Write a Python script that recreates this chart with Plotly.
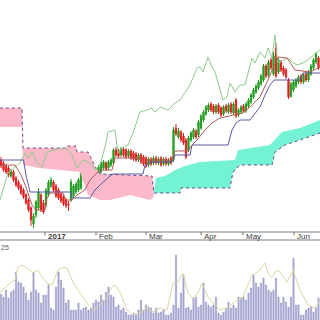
import plotly.graph_objects as go

# ---------------- data (price units, arbitrary scale) ----------------
OPEN = [80,77,74,72,64,68,62,58,54,50,45,40,32,16,25,32,45,37,35,45,
        54,58,54,50,46,43,40,36,40,44,48,50,52,68,74,70,64,71,70,66,
        68,72,77,72,75,77,90,89,85,91,90,84,89,87,86,80,85,83,82,75,
        81,77,82,77,82,76,81,76,82,80,112,103,108,104,100,90,100,103,109,105,
        112,120,126,130,136,134,128,135,132,126,134,128,136,127,140,125,128,134,129,134,
        138,143,148,152,156,160,174,165,180,166,192,168,178,172,170,160,144,150,154,158,
        164,158,166,160,166,172,178,182]
CLOSE = [74,70,68,65,69,60,55,52,47,43,37,30,20,24,38,48,30,28,50,58,
         60,50,44,42,39,36,34,35,58,54,56,60,72,74,67,63,70,65,64,73,
         77,78,71,78,80,90,85,84,91,85,83,89,82,81,80,85,78,76,74,81,
         76,82,77,81,75,81,76,80,77,110,106,109,100,97,83,102,107,110,103,118,
         124,128,133,135,130,128,134,128,125,133,129,135,128,136,124,130,133,129,136,140,
         145,150,154,158,164,174,164,178,172,184,164,180,170,166,163,143,156,158,160,163,
         158,165,160,168,174,180,186,172]
HIGH = [83,79,76,74,71,70,64,60,56,52,47,42,34,27,40,52,47,40,52,60,
        63,60,56,52,48,45,42,39,61,56,58,62,75,76,76,72,72,73,72,75,
        79,80,79,80,82,92,93,91,93,93,92,91,91,89,88,87,87,85,84,83,
        83,84,84,83,84,83,83,82,84,113,116,112,110,107,102,104,109,112,111,120,
        126,130,135,137,138,136,136,137,134,135,136,137,138,138,142,132,135,136,138,142,
        147,152,156,160,166,176,176,180,182,188,197,182,180,174,172,162,158,160,162,165,
        166,167,168,170,176,182,188,184]
LOW = [72,68,66,63,62,58,53,50,45,41,35,28,14,12,22,30,28,26,33,43,
       52,48,42,40,37,34,32,29,38,42,46,48,50,66,65,61,62,63,62,64,
       66,70,69,70,73,75,83,82,83,83,81,82,80,79,78,78,76,74,72,73,
       74,75,75,75,73,74,74,74,75,78,104,101,98,95,81,88,98,101,101,103,
       110,118,124,128,128,126,126,126,123,124,127,126,126,125,122,123,126,127,127,132,
       136,141,146,150,154,158,162,163,170,164,162,166,168,164,161,141,142,148,152,156,
       156,156,158,158,164,170,176,170]
VOLUME = [26,23,30,22,28,30,48,38,37,33,27,20,28,48,30,27,17,25,25,35,
          12,10,33,48,40,32,17,20,10,10,10,17,10,12,13,10,12,17,20,18,
          25,20,28,33,25,23,13,15,10,12,8,5,5,7,5,10,20,10,15,13,
          12,7,12,7,8,10,5,5,7,15,65,12,27,45,12,13,10,22,23,13,
          15,37,18,15,13,15,23,7,5,8,12,18,12,15,12,23,22,23,20,27,
          32,45,37,33,37,42,35,30,28,30,42,23,17,23,18,13,23,62,15,15,
          5,5,10,12,13,8,12,22]

TENKAN_X = [-0.5,5.6,6.8,8.4,10.4,12.4,14,17.6,18.4,19.6,24.8,26,28.4,30.4,33.6,35.6,37.6,39.6,
            44.4,45.6,54.8,55.6,59.6,68.4,69.6,74.8,76.4,78.4,81.6,84.4,87.6,92.4,96.8,100.4,
            103.6,106.4,108.4,110.8,114.4,117.6,123.6,127.6]
TENKAN = [75,75,70,63,50,35,30,30,42,47,47,40,40,45,50,60,65,70,
          70,82,82,80,80,80,89,89,95,100,110,117,122,125,127,135,
          143,158,170,183,182,170,168,173]

KIJUN_X = [-0.5,9,10,11,11.6,28,28.4,35.6,36.4,37.6,39.6,41.6,43.6,44.8,56.8,57.6,59.6,68.4,
           69.6,75.6,76.4,90.8,92.4,94,95.6,99.6,101.6,103.6,105.6,107.6,109.2,119.6,120.8,127.6]
KIJUN = [80,80,65,55,48,48,42,42,45,50,55,60,64,66,66,75,78,78,
         85,85,95,95,110,117,120,120,127,133,145,155,160,160,167,167]

CHIKOU_X = [-0.4,2.8,7.6,9.6,10.8,12.4,14.4,16.4,18.4,20.8,22.8,25.6,26.8,28.4,30.4,32.8,35.6,
            37.6,39.6,41.6,42.8,45.6,46.8,48.4,50.8,52.8,54.4,55.6,58.4,60.4,61.6,63.6,66.8,
            69.6,71.6,75.6,78.4,79.6,80.8,82.8,84,85.6,88.8,90.4,91.6,93.6,95.6,97.6,100.4,
            101.6,103.6,105.6,106.8,108.4,109.6,110.4,111.2,112.8,114.8,116.8,118.8,121.6,
            123.6,126.4,127.6]
CHIKOU = [40,67,77,87,82,88,77,73,88,90,91,92,90,85,72,80,77,
          70,75,93,108,110,87,92,95,107,120,128,130,132,128,133,130,
          137,140,155,172,173,168,183,175,168,140,143,157,148,155,155,182,
          177,188,182,192,182,205,182,177,180,182,177,175,178,
          182,187,190]

SPAN_B_X = [-0.5,8.4,8.8,26,26.4,30,30.4,34.8,38,39.6,60.4,61.2,71.6,72,91.6,92.8,95.6,
            108.4,109.6,113.6,119.6,127.6]
SPAN_B = [132,132,92,92,94,94,88,88,72,66,64,47,47,52,52,68,75,
          75,88,95,100,107]
SPAN_A_X = [-0.5,8.4,8.8,15.6,23.6,31.6,34.8,39.6,43.6,51.6,59.6,60.8,62,65.6,69.6,73.6,
            79.6,93.6,94.8,107.6,109.6,112.4,119.6,127.6]
SPAN_A = [113,113,75,72,70,68,45,40,40,45,40,42,62,64,70,74,
          78,80,90,95,100,108,112,120]
CLOUD_SWITCH = 61.2  # bearish (pink) before, bullish (cyan) after

VOL_MA_X = [-0.4,1.6,3.6,5.6,6.8,8.4,10.4,12.8,14.8,16.4,18.4,20.4,22.8,24.8,26.4,28.4,30.8,
            34.4,36.8,39.6,42.4,44.4,45.6,47.6,50.4,52.4,55.6,58.4,60.8,63.6,66.4,68.8,70.8,
            72.8,74.8,76.8,78.8,80.4,82.8,84.8,87.6,90.4,94.4,96.8,100.4,102.4,103.6,105.6,
            106.8,108.4,110.4,111.6,114.4,116.8,119.6,122.8,125.6,127.6]
VOL_MA = [28,32,37,40,53,55,52,47,50,43,37,35,50,53,52,40,30,
          17,10,15,23,33,35,28,10,5,7,12,8,12,10,37,38,
          47,27,22,27,37,23,18,10,12,20,23,45,48,50,57,
          47,43,50,48,38,50,30,15,12,20]

TICK_POS = [-3.6, 17.6, 38, 58, 80, 96.8, 117.2]
TICK_LABELS = ["Dec", "<b>2017</b>", "Feb", "Mar", "Apr", "May", "Jun"]
VOL_LABEL = "25"

# ---------------- figure ----------------
IDX = list(range(len(OPEN)))
fig = go.Figure()

# cloud polygons
pb = [(x, y) for x, y in zip(SPAN_B_X, SPAN_B) if x <= CLOUD_SWITCH]
pa = [(x, y) for x, y in zip(SPAN_A_X, SPAN_A) if x <= CLOUD_SWITCH]
poly = pb + pa[::-1]
fig.add_trace(go.Scatter(x=[p[0] for p in poly], y=[p[1] for p in poly], fill="toself",
                         fillcolor="#fab8c8", line=dict(width=0), mode="lines",
                         hoverinfo="skip", xaxis="x", yaxis="y"))
cb = [(x, y) for x, y in zip(SPAN_B_X, SPAN_B) if x >= CLOUD_SWITCH]
ca = [(x, y) for x, y in zip(SPAN_A_X, SPAN_A) if x >= CLOUD_SWITCH - 0.5]
poly = ca + cb[::-1]
fig.add_trace(go.Scatter(x=[p[0] for p in poly], y=[p[1] for p in poly], fill="toself",
                         fillcolor="#74f2d4", line=dict(width=0), mode="lines",
                         hoverinfo="skip", xaxis="x", yaxis="y"))
fig.add_trace(go.Scatter(x=SPAN_B_X, y=SPAN_B, mode="lines",
                         line=dict(color="#6a4a8a", width=1, dash="dot"),
                         xaxis="x", yaxis="y"))

fig.add_trace(go.Scatter(x=CHIKOU_X, y=CHIKOU, mode="lines",
                         line=dict(color="#8ccc8c", width=1), xaxis="x", yaxis="y"))
fig.add_trace(go.Scatter(x=KIJUN_X, y=KIJUN, mode="lines",
                         line=dict(color="#5a5aa8", width=1), xaxis="x", yaxis="y"))
fig.add_trace(go.Scatter(x=TENKAN_X, y=TENKAN, mode="lines",
                         line=dict(color="#b85a5a", width=1), xaxis="x", yaxis="y"))

fig.add_trace(go.Candlestick(x=IDX, open=OPEN, high=HIGH, low=LOW, close=CLOSE,
                             increasing=dict(line=dict(color="#1f9a1f", width=1), fillcolor="#22aa22"),
                             decreasing=dict(line=dict(color="#e02020", width=1), fillcolor="#e82222"),
                             whiskerwidth=0, xaxis="x", yaxis="y"))

fig.add_trace(go.Bar(x=IDX, y=VOLUME,
                     marker=dict(color="#b0b0d8", line=dict(width=0.5, color="#8c8cc0")),
                     width=0.5, xaxis="x2", yaxis="y2"))
fig.add_trace(go.Scatter(x=VOL_MA_X, y=VOL_MA, mode="lines",
                         line=dict(color="#ddd3a3", width=1), xaxis="x2", yaxis="y2"))

ax = dict(range=[-0.4, 127.6], showgrid=False, zeroline=False, showline=False,
          showticklabels=False, ticks="", fixedrange=True)
fig.update_layout(
    width=320, height=320, margin=dict(l=0, r=0, t=0, b=0),
    paper_bgcolor="white", plot_bgcolor="white", showlegend=False,
    xaxis=dict(ax, anchor="y", rangeslider=dict(visible=False)),
    xaxis2=dict(ax, anchor="y2", matches="x"),
    yaxis=dict(domain=[0.275, 1], range=[8, 240], showgrid=False, zeroline=False,
               showticklabels=False, ticks=""),
    yaxis2=dict(domain=[0, 0.24], range=[0, 77], showgrid=False, zeroline=False,
                showticklabels=False, ticks=""),
)

# date band lines
for yy in [0.275, 0.25]:
    fig.add_shape(type="line", xref="paper", yref="paper", x0=0, x1=1, y0=yy, y1=yy,
                  line=dict(color="#a8a8a8", width=1.5))
for pos, lab in zip(TICK_POS, TICK_LABELS):
    fig.add_shape(type="line", xref="x", yref="paper", x0=pos, x1=pos, y0=0.275, y1=0.265,
                  line=dict(color="#707070", width=1))
    fig.add_annotation(x=pos, y=0.2625, xref="x", yref="paper", text=lab, showarrow=False,
                       xanchor="left", yanchor="middle", xshift=1,
                       font=dict(family="Arial, Liberation Sans", size=8, color="#404040"))
fig.add_annotation(x=0, y=0.245, xref="paper", yref="paper", text=VOL_LABEL, showarrow=False,
                   xanchor="left", yanchor="top", xshift=-1,
                   font=dict(family="Arial, Liberation Sans", size=7, color="#606060"))

fig.write_html("out.html")
